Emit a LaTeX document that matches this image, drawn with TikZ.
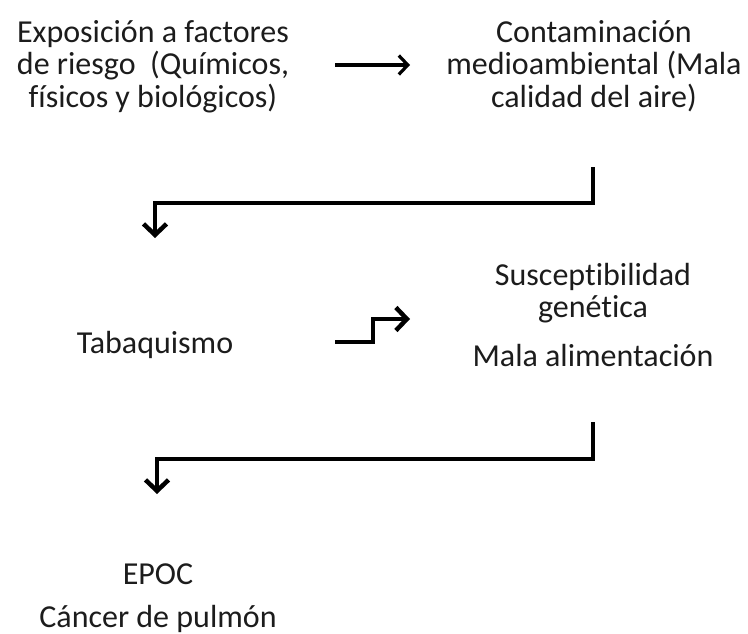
\documentclass[tikz,border=0pt]{standalone}
\usepackage{fontspec}
\setmainfont{Carlito}[RawFeature={-liga}]
\usetikzlibrary{arrows.meta}
\definecolor{ink}{HTML}{1C1C1C}
\tikzset{
  lbl/.style={font={\fontsize{32}{32.5}\selectfont}, text=ink, align=center, inner sep=0pt, anchor=base},
  conn/.style={draw=black, line width=4.5pt, line join=miter,
    -{Straight Barb[length=11pt, width=23pt, line width=4.5pt]}},
  thinconn/.style={draw=black, line width=3.2pt,
    -{Straight Barb[length=9pt, width=19pt, line width=3.2pt]}}
}
\begin{document}
\begin{tikzpicture}[x=1pt,y=-1pt]
\useasboundingbox (0,0) rectangle (748,634);
\node[lbl] (A) at (153,107) {Exposición a factores\\de riesgo ~(Químicos,\\físicos y biológicos)};
\node[lbl] (B) at (594,107) {Contaminación\\medioambiental (Mala\\calidad del aire)};
\node[lbl] (C) at (155,353) {Tabaquismo};
\node[lbl] (D) at (593,366) {Susceptibilidad\\genética\\[16pt]Mala alimentación};
\node[lbl] (E) at (158,627) {EPOC\\[10pt]Cáncer de pulmón};
% connector end points
\coordinate (ab1) at (335,65);
\coordinate (ab2) at (410,65);
\coordinate (bc1) at (593,167);
\coordinate (bc2) at (593,203);
\coordinate (bc3) at (155,203);
\coordinate (bc4) at (155,238);
\coordinate (cd1) at (335,342);
\coordinate (cd2) at (373,342);
\coordinate (cd3) at (373,319);
\coordinate (cd4) at (410,319);
\coordinate (de1) at (593,422);
\coordinate (de2) at (593,459);
\coordinate (de3) at (157,459);
\coordinate (de4) at (157,494);
\draw[thinconn] (ab1) -- (ab2);
\draw[conn] (bc1) -- (bc2) -- (bc3) -- (bc4);
\draw[conn] (cd1) -- (cd2) -- (cd3) -- (cd4);
\draw[conn] (de1) -- (de2) -- (de3) -- (de4);
\end{tikzpicture}
\end{document}
